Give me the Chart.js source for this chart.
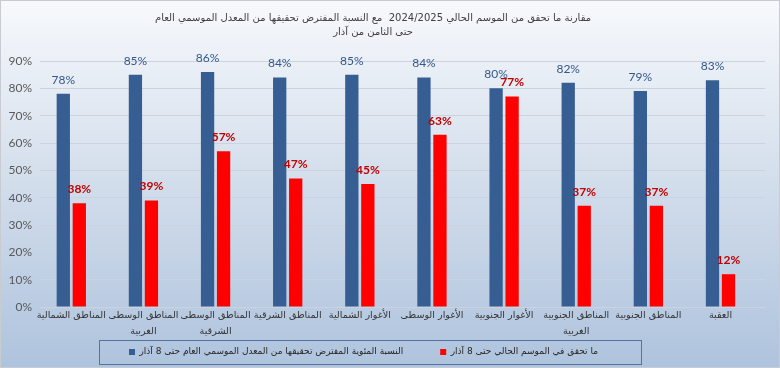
<!DOCTYPE html>
<html><head><meta charset="utf-8">
<script src="https://cdn.jsdelivr.net/npm/chart.js@4.4.1/dist/chart.umd.min.js"></script>
<style>html,body{margin:0;padding:0;background:#fff}#wrap{width:780px;height:368px}</style>
</head><body><div id="wrap"><canvas id="c" width="780" height="368"></canvas></div>
<script>
const categories = [
  ['المناطق الشمالية'],
  ['المناطق الوسطى', 'الغربية'],
  ['المناطق الوسطى', 'الشرقية'],
  ['المناطق الشرقية'],
  ['الأغوار الشمالية'],
  ['الأغوار الوسطى'],
  ['الأغوار الجنوبية'],
  ['المناطق الجنوبية', 'الغربية'],
  ['المناطق الجنوبية'],
  ['العقبة']
];
const expectedValues = [78, 85, 86, 84, 85, 84, 80, 82, 79, 83];
const achievedValues = [38, 39, 57, 47, 45, 63, 77, 37, 37, 12];
const yTickValues = [0, 10, 20, 30, 40, 50, 60, 70, 80, 90];
const seriesNames = [
  'النسبة المئوية المفترض تحقيقها من المعدل الموسمي العام حتى 8 آذار',
  'ما تحقق في الموسم الحالي حتى 8 آذار'
];
const titleLines = [
  'مقارنة ما تحقق من الموسم الحالي 2024/2025  مع النسبة المفترض تحقيقها من المعدل الموسمي العام',
  'حتى الثامن من آذار'
];

const toPoints = arr => arr.map((v, i) => ({x: i, y: v}));

const LEGEND_FONT = 9;
const LEGEND_PAD = 37;
const LEGEND_BOX_H = 24;

const bgPlugin = {
  id: 'bg',
  beforeDraw(chart) {
    const {ctx, width, height} = chart;
    const g = ctx.createLinearGradient(0, 0, 0, height);
    g.addColorStop(0, '#F7F9FC');
    g.addColorStop(0.45, '#D6E0ED');
    g.addColorStop(1, '#AEC3DD');
    ctx.save();
    ctx.fillStyle = g;
    ctx.fillRect(0, 0, width, height);
    ctx.strokeStyle = '#C8CCD2';
    ctx.lineWidth = 1;
    ctx.strokeRect(0.5, 0.5, width - 1, height - 1);
    ctx.restore();
  }
};

const layoutPlugin = {
  id: 'layoutTweak',
  afterLayout(chart) {
    const t = chart.titleBlock;
    if (t) { t.left = 0; t.right = 746; }
    const lg = chart.legend;
    if (lg) {
      lg.left = 0; lg.right = 727;
      lg.top = 352 - LEGEND_PAD - LEGEND_FONT / 2;
      lg.bottom = 368;
    }
  },
  afterDraw(chart) {
    const ctx = chart.ctx;
    ctx.save();
    ctx.strokeStyle = '#5373A3';
    ctx.lineWidth = 1;
    ctx.strokeRect(99.5, 340.5, 542, 24);
    ctx.restore();
  }
};

const valueLabels = {
  id: 'valueLabels',
  afterDatasetsDraw(chart) {
    const ctx = chart.ctx;
    ctx.save();
    ctx.textAlign = 'center';
    ctx.textBaseline = 'middle';
    chart.data.datasets.forEach((ds, di) => {
      const meta = chart.getDatasetMeta(di);
      ctx.fillStyle = ds.labelColor;
      ctx.font = ds.labelFont;
      meta.data.forEach((el, i) => {
        ctx.fillText(ds.data[i].y + '%', el.x, el.y - 14);
      });
    });
    ctx.restore();
  }
};

new Chart(document.getElementById('c'), {
  type: 'bar',
  data: {
    datasets: [
      {
        label: seriesNames[0],
        data: toPoints(expectedValues),
        backgroundColor: '#365E92',
        labelColor: '#34578A',
        labelFont: '12px Lato',
        categoryPercentage: 0.444,
        barPercentage: 0.83
      },
      {
        label: seriesNames[1],
        data: toPoints(achievedValues),
        backgroundColor: '#FF0000',
        labelColor: '#C00000',
        labelFont: 'bold 12px Lato',
        categoryPercentage: 0.444,
        barPercentage: 0.83
      }
    ]
  },
  options: {
    responsive: false,
    animation: false,
    devicePixelRatio: 1,
    layout: { padding: { left: 0, right: 15, top: 0, bottom: 0 } },
    plugins: {
      title: {
        display: true,
        text: titleLines,
        color: '#404040',
        font: { family: 'DejaVu Sans', size: 10, lineHeight: 1.4, weight: 'normal' },
        padding: { top: 11, bottom: 22 }
      },
      legend: {
        display: true,
        position: 'bottom',
        maxHeight: LEGEND_BOX_H,
        labels: {
          boxWidth: 6,
          boxHeight: 6,
          padding: LEGEND_PAD,
          color: '#262626',
          font: { family: 'DejaVu Sans', size: LEGEND_FONT }
        }
      },
      tooltip: { enabled: false }
    },
    scales: {
      x: {
        type: 'linear',
        offset: false,
        min: -0.434,
        max: 9.617,
        grid: { display: false, drawTicks: false },
        border: { display: false },
        afterBuildTicks: s => { s.ticks = categories.map((_, i) => ({ value: i })); },
        afterFit: s => { s.height = 368 - 307 - LEGEND_BOX_H; },
        ticks: {
          autoSkip: false,
          maxRotation: 0,
          minRotation: 0,
          padding: 0,
          color: '#333333',
          font: { family: 'DejaVu Sans', size: 9.6, lineHeight: 1.72 },
          callback: v => categories[Math.round(v)]
        }
      },
      y: {
        min: 0,
        max: 90,
        afterBuildTicks: s => { s.ticks = yTickValues.map(v => ({ value: v })); },
        afterFit: s => { s.width = 40; },
        grid: { color: '#CAD3DF', drawTicks: false },
        border: { display: false },
        ticks: {
          padding: 8,
          color: '#595959',
          font: { family: 'Lato', size: 12 },
          callback: v => v + '%'
        }
      }
    }
  },
  plugins: [bgPlugin, layoutPlugin, valueLabels]
});
</script>
</body></html>
